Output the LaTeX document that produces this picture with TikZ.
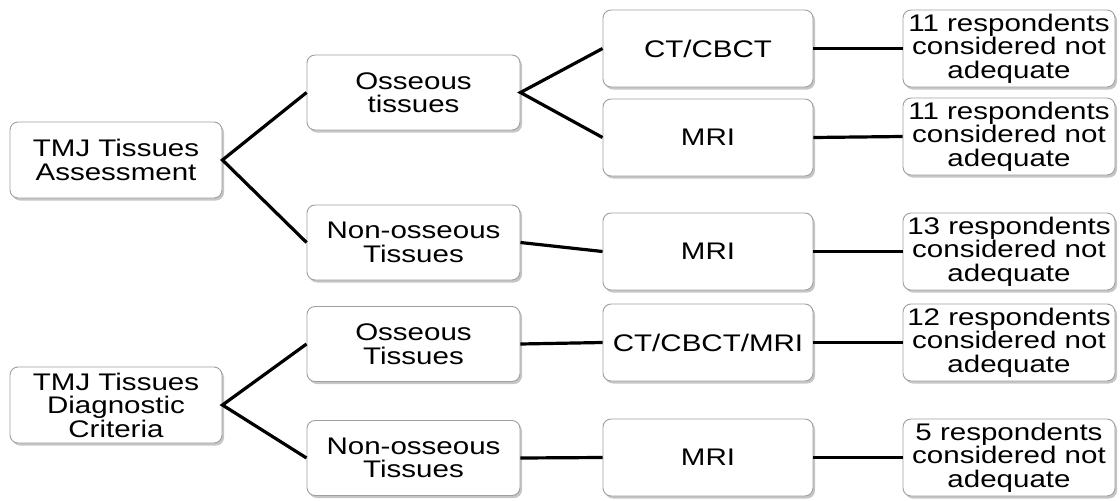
\documentclass[tikz,border=0pt]{standalone}
\usepackage{fontspec}
\setmainfont{Liberation Sans}[FakeStretch=1.23]
\usetikzlibrary{shadows}
\begin{document}
\begin{tikzpicture}[x=1pt,y=-1pt,
  box/.style={draw=gray!75, line width=0.9pt, fill=white, rounded corners=8pt,
    drop shadow={shadow xshift=2pt, shadow yshift=-2.5pt, opacity=0.45, fill=gray},
    align=center, inner sep=0pt, font=\fontsize{24}{23.5}\selectfont},
  lvl0/.style={box, minimum width=212pt, minimum height=76pt},
  lvl1/.style={box, minimum width=213pt, minimum height=75pt},
  lvl2/.style={box, minimum width=210pt, minimum height=77pt},
  lvl3/.style={box, minimum width=212pt, minimum height=77pt},
  conn/.style={line width=3.2pt, black}]
\useasboundingbox (0,0) rectangle (1120,501);
% level 0
\node[lvl0] (A) at (116,160) {TMJ Tissues\\Assessment};
\node[lvl0] (D) at (116,405) {TMJ Tissues\\Diagnostic\\Criteria};
% level 1
\node[lvl1] (AO) at (413.5,92.5) {Osseous\\tissues};
\node[lvl1] (AN) at (413.5,242.5) {Non-osseous\\Tissues};
\node[lvl1] (DO) at (413.5,344) {Osseous\\Tissues};
\node[lvl1] (DN) at (413.5,458) {Non-osseous\\Tissues};
% level 2
\node[lvl2] (AOC) at (708,48.5) {CT/CBCT};
\node[lvl2] (AOM) at (708,137.5) {MRI};
\node[lvl2] (ANM) at (708,251.5) {MRI};
\node[lvl2] (DOC) at (708,342.5) {CT/CBCT/MRI};
\node[lvl2] (DNM) at (708,457.5) {MRI};
% level 3
\node[lvl3] (R1) at (1009,48.5) {11 respondents\\considered not\\adequate};
\node[lvl3] (R2) at (1009,136.5) {11 respondents\\considered not\\adequate};
\node[lvl3] (R3) at (1009,251.5) {13 respondents\\considered not\\adequate};
\node[lvl3] (R4) at (1009,342.5) {12 respondents\\considered not\\adequate};
\node[lvl3] (R5) at (1009,457.5) {5 respondents\\considered not\\adequate};
% connectors
\draw[conn] (AO.west) -- (A.east) -- (AN.west);
\draw[conn] (DO.west) -- (D.east) -- (DN.west);
\draw[conn] (AOC.west) -- (AO.east) -- (AOM.west);
\draw[conn] (AN.east) -- (ANM.west);
\draw[conn] (DO.east) -- (DOC.west);
\draw[conn] (DN.east) -- (DNM.west);
\draw[conn] (AOC.east) -- (R1.west);
\draw[conn] (AOM.east) -- (R2.west);
\draw[conn] (ANM.east) -- (R3.west);
\draw[conn] (DOC.east) -- (R4.west);
\draw[conn] (DNM.east) -- (R5.west);
\end{tikzpicture}
\end{document}
